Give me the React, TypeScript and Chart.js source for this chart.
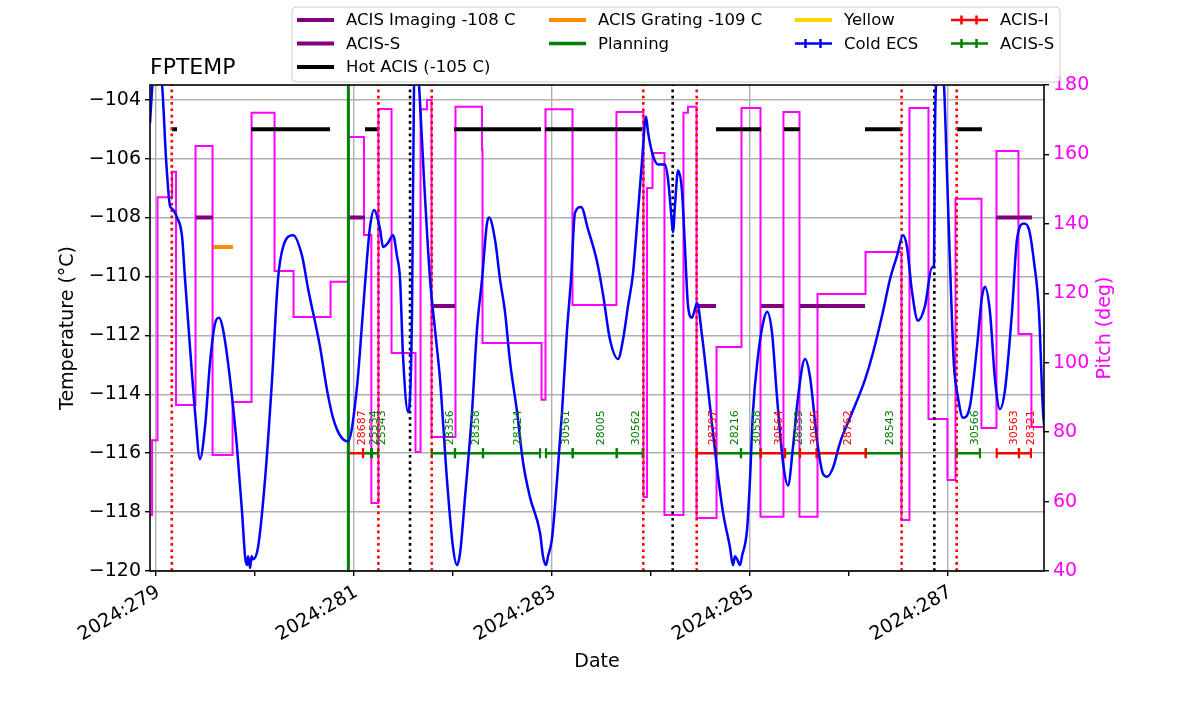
import React, { useEffect, useRef } from 'react';
import { Chart, registerables } from 'chart.js';

Chart.register(...registerables);

// ---------------- data ----------------
const xTicks = [279, 280, 281, 282, 283, 284, 285, 286, 287];
const tempTicks = [-120, -118, -116, -114, -112, -110, -108, -106, -104];
const pitchTicks = [40, 60, 80, 100, 120, 140, 160, 180];

const tempTimes = [
  278.944, 278.975, 279.005, 279.066, 279.106, 279.146, 279.167, 279.217, 279.268, 279.298,
  279.348, 279.399, 279.449, 279.5, 279.551, 279.601, 279.641, 279.682, 279.753, 279.823,
  279.874, 279.904, 279.925, 279.935, 279.955, 279.97, 279.985, 280.035, 280.106, 280.177,
  280.237, 280.288, 280.389, 280.48, 280.54, 280.662, 280.732, 280.793, 280.864, 280.944,
  281.035, 281.086, 281.136, 281.167, 281.207, 281.268, 281.298, 281.348, 281.399, 281.439,
  281.47, 281.5, 281.551, 281.591, 281.611, 281.641, 281.662, 281.712, 281.773, 281.823,
  281.874, 281.944, 282.005, 282.045, 282.076, 282.126, 282.197, 282.247, 282.298, 282.348,
  282.369, 282.429, 282.48, 282.53, 282.581, 282.652, 282.712, 282.783, 282.884, 282.914,
  282.944, 282.965, 283.005, 283.056, 283.106, 283.157, 283.197, 283.237, 283.298, 283.369,
  283.46, 283.52, 283.591, 283.672, 283.722, 283.773, 283.823, 283.874, 283.914, 283.955,
  283.975, 284.025, 284.076, 284.146, 284.177, 284.207, 284.227, 284.247, 284.278, 284.318,
  284.348, 284.379, 284.419, 284.449, 284.47, 284.52, 284.601, 284.672, 284.732, 284.803,
  284.833, 284.854, 284.874, 284.904, 284.924, 284.975, 285.005, 285.035, 285.086, 285.136,
  285.177, 285.227, 285.278, 285.338, 285.389, 285.439, 285.49, 285.561, 285.611, 285.682,
  285.742, 285.783, 285.843, 285.914, 286.015, 286.167, 286.247, 286.348, 286.419, 286.49,
  286.551, 286.591, 286.641, 286.702, 286.773, 286.843, 286.864, 286.874, 286.884, 286.924,
  286.965, 286.995, 287.035, 287.065, 287.106, 287.157, 287.227, 287.298, 287.348, 287.379,
  287.429, 287.48, 287.53, 287.581, 287.652, 287.702, 287.773, 287.823, 287.874, 287.924,
  287.965, 287.985,
];
const tempValues = [
  -104.8, -103.2, -102.6, -103.5, -106.0, -107.6, -107.7, -108.0, -108.65, -110.1,
  -112.4, -114.6, -116.2, -115.1, -112.9, -111.6, -111.4, -111.8, -113.5, -115.8,
  -118.0, -119.5, -119.8, -119.5, -119.9, -119.5, -119.6, -119.2, -116.9, -113.5,
  -110.1, -109.0, -108.6, -109.3, -110.4, -112.4, -113.85, -114.8, -115.4, -115.6,
  -113.75, -111.6, -109.4, -108.3, -107.74, -108.4, -109.0, -108.86, -108.6, -109.3,
  -110.1, -112.7, -114.6, -111.2, -103.5, -102.5, -103.5, -106.7, -110.1, -111.8,
  -113.5, -116.9, -119.2, -119.8, -119.4, -117.5, -114.6, -111.8, -110.1, -108.2,
  -108.0, -108.75, -110.1, -111.2, -112.9, -114.6, -116.3, -117.5, -118.7, -119.5,
  -119.8, -119.5, -118.9, -116.9, -114.6, -111.8, -110.1, -107.84, -107.64, -108.4,
  -109.5, -110.6, -112.15, -112.8, -112.15, -111.0, -109.9, -107.8, -106.1, -104.58,
  -105.1, -105.9, -106.2, -106.2, -106.7, -107.8, -108.5, -107.6, -106.4, -107.1,
  -109.0, -111.0, -111.4, -111.1, -110.9, -112.0, -114.4, -116.5, -118.0, -119.2,
  -119.8, -119.5, -119.6, -119.8, -119.5, -118.6, -116.9, -114.6, -112.7, -111.6,
  -111.2, -111.9, -114.1, -116.3, -117.1, -115.8, -114.1, -112.8, -113.4, -115.55,
  -116.7, -116.8, -116.5, -115.65, -114.8, -113.5, -112.6, -111.2, -110.1, -109.3,
  -108.6, -109.0, -110.5, -111.5, -111.0, -109.7, -109.6, -105.0, -103.5, -102.5,
  -103.5, -106.5, -110.5, -113.0, -114.1, -114.8, -114.4, -112.4, -110.7, -110.35,
  -111.2, -113.5, -114.5, -113.85, -111.2, -108.75, -108.2, -108.4, -109.5, -111.2,
  -114.6, -115.3,
];

const pitchTimes = [
  278.944, 278.965, 279.02, 279.167, 279.207, 279.404, 279.576, 279.778, 279.97, 280.202,
  280.394, 280.768, 280.949, 281.106, 281.18, 281.252, 281.384, 281.626, 281.677, 281.742,
  281.788, 282.03, 282.298, 282.303, 282.899, 282.939, 283.212, 283.656, 283.929, 283.965,
  284.02, 284.141, 284.333, 284.379, 284.465, 284.667, 284.919, 285.111, 285.343, 285.505,
  285.687, 286.172, 286.535, 286.616, 286.808, 287.0, 287.081, 287.343, 287.495, 287.717,
  287.848, 287.975,
];
const pitchValues = [
  56.1, 77.7, 147.7, 155.0, 87.8, 162.4, 73.4, 88.7, 172.0, 126.4,
  113.2, 123.3, 165.0, 136.8, 59.6, 173.1, 102.8, 74.3, 173.0, 175.7,
  78.6, 173.7, 161.3, 105.7, 89.3, 173.0, 116.6, 172.2, 61.3, 150.3,
  160.4, 56.1, 172.0, 173.7, 55.3, 104.5, 173.4, 55.6, 172.2, 55.6,
  119.8, 131.9, 54.7, 173.4, 83.8, 66.2, 147.2, 81.2, 161.0, 108.3,
  81.5, 81.5,
];

const hotAcisLimit = -105;
const hotAcisStart = [279.164, 279.965, 281.116, 282.015, 282.934, 284.662, 285.348, 286.167, 287.096];
const hotAcisEnd = [279.217, 280.763, 281.247, 282.894, 283.914, 285.116, 285.51, 286.54, 287.348];

const acisImagingLimit = -108;
const acisImagingStart = [279.409, 280.944, 287.49];
const acisImagingEnd = [279.581, 281.116, 287.854];

const acisSLimit = -111;
const acisSStart = [281.783, 284.47, 285.116, 285.51];
const acisSEnd = [282.025, 284.662, 285.348, 286.167];

const gratingLimit = -109;
const gratingStart = [279.581];
const gratingEnd = [279.783];

const redLineTimes = [279.164, 281.251, 281.79, 283.927, 284.467, 286.537, 287.093];
const blackLineTimes = [281.571, 284.224, 286.867];
const planningTimes = [280.948];

const obsidLevel = -116;
const obsidIds = ['28687', '25534', '25543', '28356', '28358', '28124', '30561', '28005', '30562', '28797',
  '28216', '30558', '30564', '28559', '30565', '28762', '28543', '30566', '30563', '28321'];
const obsidStart = [280.944, 281.096, 281.187, 281.79, 282.025, 282.308, 282.944, 283.214, 283.659, 284.467,
  284.662, 284.914, 285.113, 285.359, 285.51, 285.679, 286.174, 287.093, 287.497, 287.722];
const obsidEnd = [281.096, 281.177, 281.247, 282.025, 282.308, 282.884, 283.214, 283.659, 283.921, 284.662,
  284.914, 285.113, 285.359, 285.51, 285.679, 286.174, 286.537, 287.328, 287.722, 287.843];
const obsidInstrument = ['I', 'S', 'S', 'S', 'S', 'S', 'S', 'S', 'S', 'I',
  'S', 'S', 'I', 'S', 'I', 'I', 'S', 'S', 'I', 'I'];

const X_MIN = 278.944;
const X_MAX = 287.975;
const T_MIN = -120;
const T_MAX = -103.5;
const P_MIN = 40;
const P_MAX = 180;

// ---------------- helpers ----------------
const FONT = '"DejaVu Sans", sans-serif';
const PURPLE = '#800080';
const MAGENTA = '#ff00ff';
const GREEN = '#008000';
const RED = '#ff0000';

function segments(starts: number[], ends: number[], y: number) {
  const pts: any[] = [];
  starts.forEach((s, i) => {
    pts.push({ x: s, y }, { x: ends[i], y }, { x: ends[i], y: null });
  });
  return pts;
}

function verticals(times: number[]) {
  const pts: any[] = [];
  times.forEach((t) => {
    pts.push({ x: t, y: T_MIN }, { x: t, y: T_MAX }, { x: t, y: null });
  });
  return pts;
}

function obsidSegments(kind: string) {
  const pts: any[] = [];
  obsidIds.forEach((_, i) => {
    if (obsidInstrument[i] !== kind) return;
    pts.push({ x: obsidStart[i], y: obsidLevel }, { x: obsidEnd[i], y: obsidLevel }, { x: obsidEnd[i], y: null });
  });
  return pts;
}

const legendItems = [
  { col: 0, row: 0, label: 'ACIS Imaging -108 C', color: PURPLE, kind: 'line' },
  { col: 0, row: 1, label: 'ACIS-S', color: PURPLE, kind: 'line' },
  { col: 0, row: 2, label: 'Hot ACIS (-105 C)', color: '#000000', kind: 'line' },
  { col: 1, row: 0, label: 'ACIS Grating -109 C', color: '#ff8c00', kind: 'line' },
  { col: 1, row: 1, label: 'Planning', color: GREEN, kind: 'line' },
  { col: 2, row: 0, label: 'Yellow', color: '#ffd700', kind: 'line' },
  { col: 2, row: 1, label: 'Cold ECS', color: '#0000ff', kind: 'err' },
  { col: 3, row: 0, label: 'ACIS-I', color: RED, kind: 'err' },
  { col: 3, row: 1, label: 'ACIS-S', color: GREEN, kind: 'err' },
];

const overlayPlugin = {
  id: 'overlay',
  afterDatasetsDraw(chart: any) {
    const { ctx, chartArea, scales } = chart;
    // obsid labels
    ctx.save();
    ctx.font = `11px ${FONT}`;
    ctx.textAlign = 'left';
    ctx.textBaseline = 'alphabetic';
    obsidIds.forEach((id, i) => {
      const mid = scales.x.getPixelForValue((obsidStart[i] + obsidEnd[i]) / 2);
      const y = scales.y.getPixelForValue(obsidLevel) - 8;
      ctx.save();
      ctx.translate(mid + 9.5, y);
      ctx.rotate(-Math.PI / 2);
      ctx.fillStyle = obsidInstrument[i] === 'I' ? RED : GREEN;
      ctx.fillText(id, 0, 0);
      ctx.restore();
    });
    ctx.restore();
    // frame
    ctx.save();
    ctx.strokeStyle = '#000';
    ctx.lineWidth = 1.6;
    ctx.strokeRect(chartArea.left, chartArea.top, chartArea.right - chartArea.left, chartArea.bottom - chartArea.top);
    ctx.restore();
  },
  afterDraw(chart: any) {
    const { ctx, chartArea } = chart;
    ctx.save();
    // title
    ctx.fillStyle = '#000';
    ctx.font = `22px ${FONT}`;
    ctx.textAlign = 'left';
    ctx.textBaseline = 'alphabetic';
    ctx.fillText('FPTEMP', chartArea.left, 74);
    // x label
    ctx.font = `19px ${FONT}`;
    ctx.textAlign = 'center';
    ctx.textBaseline = 'middle';
    ctx.fillText('Date', (chartArea.left + chartArea.right) / 2, 662);
    // y labels
    const cy = (chartArea.top + chartArea.bottom) / 2;
    ctx.save();
    ctx.translate(68, cy);
    ctx.rotate(-Math.PI / 2);
    ctx.fillText('Temperature (°C)', 0, 0);
    ctx.restore();
    ctx.save();
    ctx.translate(1105, cy);
    ctx.rotate(-Math.PI / 2);
    ctx.fillStyle = MAGENTA;
    ctx.fillText('Pitch (deg)', 0, 0);
    ctx.restore();

    // legend
    const bx = 292, by = 7, bw = 768, bh = 75, r = 4;
    ctx.beginPath();
    ctx.moveTo(bx + r, by);
    ctx.lineTo(bx + bw - r, by);
    ctx.arcTo(bx + bw, by, bx + bw, by + r, r);
    ctx.lineTo(bx + bw, by + bh - r);
    ctx.arcTo(bx + bw, by + bh, bx + bw - r, by + bh, r);
    ctx.lineTo(bx + r, by + bh);
    ctx.arcTo(bx, by + bh, bx, by + bh - r, r);
    ctx.lineTo(bx, by + r);
    ctx.arcTo(bx, by, bx + r, by, r);
    ctx.closePath();
    ctx.fillStyle = 'rgba(255,255,255,0.85)';
    ctx.fill();
    ctx.strokeStyle = '#cccccc';
    ctx.lineWidth = 1;
    ctx.stroke();

    const colIcon = [297, 549, 795, 951];
    const rowY = [20, 43.5, 67];
    const iconLen = 37;
    ctx.font = `16.5px ${FONT}`;
    ctx.textAlign = 'left';
    ctx.textBaseline = 'middle';
    legendItems.forEach((it) => {
      const x0 = colIcon[it.col];
      const y0 = rowY[it.row];
      ctx.strokeStyle = it.color;
      ctx.lineCap = 'butt';
      if (it.kind === 'line') {
        ctx.lineWidth = it.label === 'Planning' ? 3.5 : 4;
        ctx.beginPath();
        ctx.moveTo(x0, y0);
        ctx.lineTo(x0 + iconLen, y0);
        ctx.stroke();
      } else {
        ctx.lineWidth = 2.5;
        ctx.beginPath();
        ctx.moveTo(x0, y0);
        ctx.lineTo(x0 + iconLen, y0);
        const c = x0 + iconLen / 2;
        ctx.moveTo(c - 8, y0 - 4.5);
        ctx.lineTo(c - 8, y0 + 4.5);
        ctx.moveTo(c + 7, y0 - 4.5);
        ctx.lineTo(c + 7, y0 + 4.5);
        ctx.stroke();
      }
      ctx.fillStyle = '#000';
      ctx.fillText(it.label, x0 + 49, y0 + 1);
    });
    ctx.restore();
  },
};

export default function App() {
  const ref = useRef<HTMLCanvasElement | null>(null);

  useEffect(() => {
    const canvas = ref.current;
    if (!canvas) return;

    const tempData = tempTimes.map((t, i) => ({ x: t, y: tempValues[i] }));
    const pitchData = pitchTimes.map((t, i) => ({ x: t, y: pitchValues[i] }));

    const dotted = [2.7, 3.6];

    const chart = new Chart(canvas, {
      type: 'line',
      data: {
        datasets: [
          {
            label: 'Cold ECS',
            data: tempData,
            borderColor: '#0000ff',
            borderWidth: 2.5,
            pointRadius: 0,
            cubicInterpolationMode: 'monotone',
            yAxisID: 'y',
            order: 0,
          },
          {
            label: 'redlines',
            data: verticals(redLineTimes),
            borderColor: RED,
            borderWidth: 2.6,
            borderDash: dotted,
            pointRadius: 0,
            yAxisID: 'y',
            order: 1,
          },
          {
            label: 'blacklines',
            data: verticals(blackLineTimes),
            borderColor: '#000000',
            borderWidth: 2.6,
            borderDash: dotted,
            pointRadius: 0,
            yAxisID: 'y',
            order: 1,
          },
          {
            label: 'Planning',
            data: verticals(planningTimes),
            borderColor: GREEN,
            borderWidth: 3,
            pointRadius: 0,
            yAxisID: 'y',
            order: 1,
          },
          {
            label: 'Hot ACIS (-105 C)',
            data: segments(hotAcisStart, hotAcisEnd, hotAcisLimit),
            borderColor: '#000000',
            borderWidth: 4,
            pointRadius: 0,
            yAxisID: 'y',
            order: 2,
          },
          {
            label: 'ACIS Imaging -108 C',
            data: segments(acisImagingStart, acisImagingEnd, acisImagingLimit),
            borderColor: PURPLE,
            borderWidth: 4,
            pointRadius: 0,
            yAxisID: 'y',
            order: 2,
          },
          {
            label: 'ACIS-S limit',
            data: segments(acisSStart, acisSEnd, acisSLimit),
            borderColor: PURPLE,
            borderWidth: 4,
            pointRadius: 0,
            yAxisID: 'y',
            order: 2,
          },
          {
            label: 'ACIS Grating -109 C',
            data: segments(gratingStart, gratingEnd, gratingLimit),
            borderColor: '#ff8c00',
            borderWidth: 4,
            pointRadius: 0,
            yAxisID: 'y',
            order: 2,
          },
          {
            label: 'ACIS-I',
            data: obsidSegments('I'),
            borderColor: RED,
            borderWidth: 2.5,
            pointStyle: 'line',
            pointRotation: 90,
            pointRadius: 5,
            pointBorderWidth: 2.2,
            pointBorderColor: RED,
            yAxisID: 'y',
            order: 3,
          },
          {
            label: 'ACIS-S',
            data: obsidSegments('S'),
            borderColor: GREEN,
            borderWidth: 2.5,
            pointStyle: 'line',
            pointRotation: 90,
            pointRadius: 5,
            pointBorderWidth: 2.2,
            pointBorderColor: GREEN,
            yAxisID: 'y',
            order: 3,
          },
          {
            label: 'Pitch',
            data: pitchData,
            borderColor: MAGENTA,
            borderWidth: 2,
            pointRadius: 0,
            stepped: 'before',
            yAxisID: 'y2',
            order: 4,
          },
        ] as any,
      },
      options: {
        responsive: false,
        animation: false,
        events: [],
        layout: { padding: { top: 85, left: 0, right: 0, bottom: 0 } },
        plugins: {
          legend: { display: false },
          title: { display: false },
          tooltip: { enabled: false },
        },
        scales: {
          x: {
            type: 'linear',
            min: X_MIN,
            max: X_MAX,
            afterFit: (s: any) => { s.height = 143; },
            afterBuildTicks: (s: any) => { s.ticks = xTicks.map((v) => ({ value: v })); },
            ticks: {
              autoSkip: false,
              minRotation: 30,
              maxRotation: 30,
              padding: 5,
              labelOffset: 3,
              color: '#000',
              font: { family: FONT, size: 19 },
              callback: (v: any) => (Math.round(v) % 2 === 1 ? `2024:${Math.round(v)}` : ''),
            },
            grid: {
              color: (c: any) => (c.tick && Math.round(c.tick.value) % 2 === 1 ? '#b0b0b0' : 'rgba(0,0,0,0)'),
              tickColor: '#000',
              lineWidth: 1.4,
              tickLength: 5,
            },
            border: { display: false },
          },
          y: {
            type: 'linear',
            position: 'left',
            min: T_MIN,
            max: T_MAX,
            afterFit: (s: any) => { s.width = 150; },
            afterBuildTicks: (s: any) => { s.ticks = tempTicks.map((v) => ({ value: v })); },
            ticks: {
              padding: 4,
              color: '#000',
              font: { family: FONT, size: 19 },
              callback: (v: any) => (v < 0 ? `\u2212${Math.abs(v)}` : `${v}`),
            },
            grid: { color: '#b0b0b0', tickColor: '#000', lineWidth: 1.4, tickLength: 5 },
            border: { display: false },
          },
          y2: {
            type: 'linear',
            position: 'right',
            min: P_MIN,
            max: P_MAX,
            afterFit: (s: any) => { s.width = 156; },
            afterBuildTicks: (s: any) => { s.ticks = pitchTicks.map((v) => ({ value: v })); },
            ticks: {
              padding: 4,
              color: MAGENTA,
              font: { family: FONT, size: 19 },
              callback: (v: any) => `${v}`,
            },
            grid: { drawOnChartArea: false, tickColor: '#000', lineWidth: 1.4, tickLength: 5 },
            border: { display: false },
          },
        },
      } as any,
      plugins: [overlayPlugin],
    });

    return () => chart.destroy();
  }, []);

  return (
    <div style={{ position: 'absolute', left: 0, top: 0, width: 1200, height: 714, background: '#fff' }}>
      <canvas ref={ref} width={1200} height={714} style={{ width: 1200, height: 714, display: 'block' }} />
    </div>
  );
}
